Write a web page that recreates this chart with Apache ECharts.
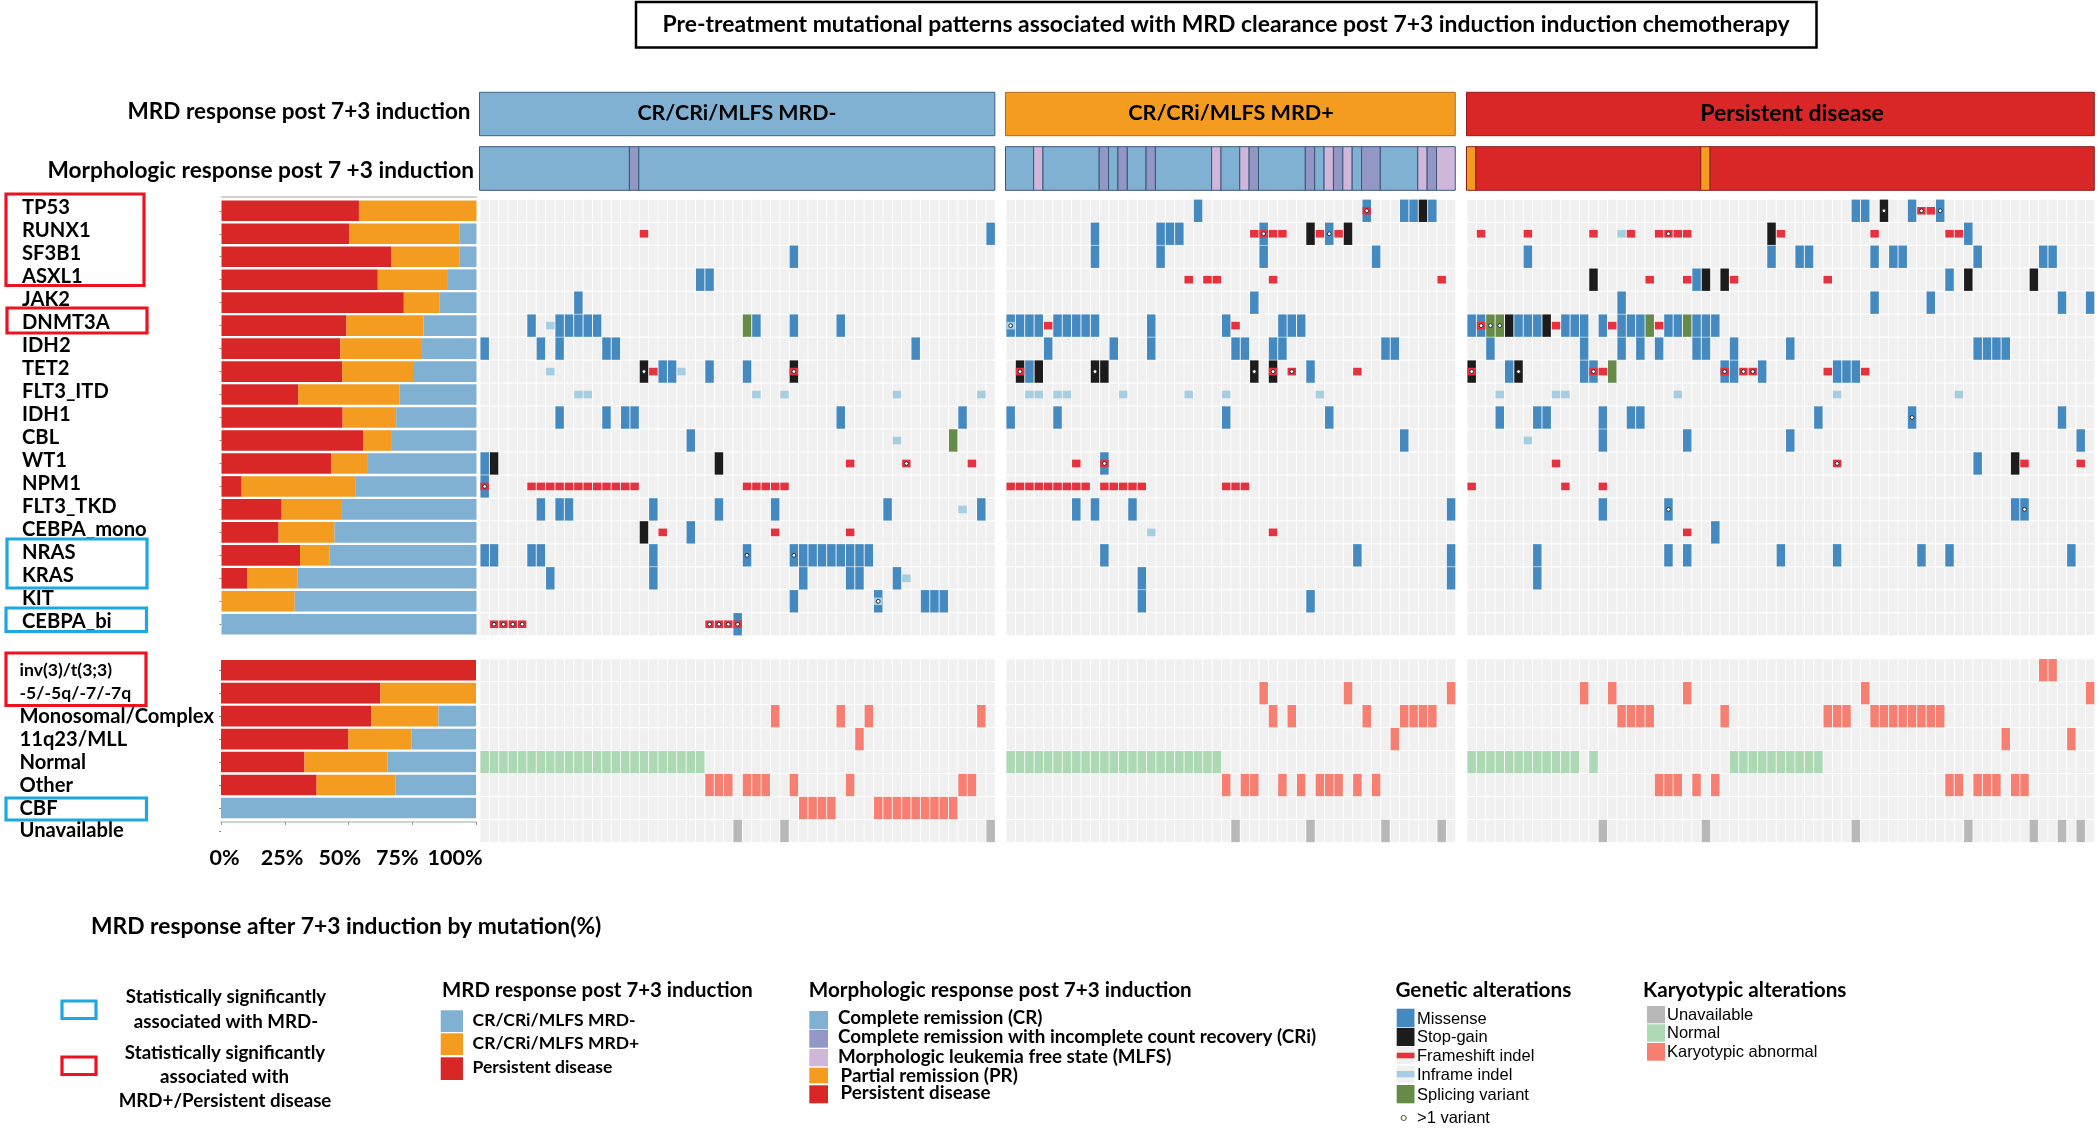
<!DOCTYPE html>
<html><head><meta charset="utf-8"><style>html,body{margin:0;padding:0;background:#fff}#c{width:2100px;height:1129px}</style>
<script src="https://cdn.jsdelivr.net/npm/echarts@6/dist/echarts.min.js"></script></head>
<body><div id="c"></div>
<script>
// ---------- categories ----------
const genes = ['TP53','RUNX1','SF3B1','ASXL1','JAK2','DNMT3A','IDH2','TET2','FLT3_ITD','IDH1','CBL','WT1','NPM1','FLT3_TKD','CEBPA_mono','NRAS','KRAS','KIT','CEBPA_bi'];
const karyotypes = ['inv(3)/t(3;3)','-5/-5q/-7/-7q','Monosomal/Complex','11q23/MLL','Normal','Other','CBF','Unavailable'];
const tickLabels = ['0%','25%','50%','75%','100%'];
const groupNames = ['CR/CRi/MLFS MRD-','CR/CRi/MLFS MRD+','Persistent disease'];
const patientCounts = [55,48,67];

// ---------- response percentages by row ----------
const genePersistent = [53.9,50.1,66.7,61.3,71.5,49,46.6,47.3,30.1,47.5,55.7,43.1,7.9,23.6,22.4,30.8,10.2,0,0];
const geneMrdPos     = [46.1,43.1,26.5,27.5,14.1,30.2,32,27.8,39.8,21,10.8,14,44.8,23.3,21.9,11.6,19.7,28.7,0];
const geneMrdNeg     = [0,6.8,6.8,11.2,14.4,20.8,21.4,24.9,30.1,31.5,33.5,42.9,47.3,53.1,55.7,57.6,70.1,71.3,100];
const karyoPersistent = [100,62.5,59,50,32.75,37.5,0,null];
const karyoMrdPos     = [0,37.5,26.25,24.75,32.5,31,0,null];
const karyoMrdNeg     = [0,0,14.75,25.25,34.75,31.5,100,null];

// ---------- morphologic response, runs of [first patient, count, state] ----------
const morphMrdNeg = [[0,16,'CR'],[16,1,'CRi'],[17,38,'CR']];
const morphMrdPos = [[0,3,'CR'],[3,1,'MLFS'],[4,6,'CR'],[10,1,'CRi'],[11,1,'CR'],[12,1,'CRi'],[13,2,'CR'],[15,1,'CRi'],[16,6,'CR'],[22,1,'MLFS'],[23,2,'CR'],[25,1,'MLFS'],[26,1,'CRi'],[27,5,'CR'],[32,1,'CRi'],[33,1,'CR'],[34,1,'MLFS'],[35,1,'CRi'],[36,1,'MLFS'],[37,1,'CR'],[38,2,'CRi'],[40,4,'CR'],[44,1,'MLFS'],[45,1,'CRi'],[46,2,'MLFS']];
const morphPersistent = [[0,1,'PR'],[1,24,'PD'],[25,1,'PR'],[26,41,'PD']];

// ---------- MRD- patients: alterations per row ----------
const negMissense = {RUNX1:[54],SF3B1:[33],ASXL1:[23,24],JAK2:[10],DNMT3A:[5,8,9,10,11,12,29,33,38],IDH2:[0,6,8,13,14,46],TET2:[19,20,24,28],IDH1:[8,13,15,16,38,51],CBL:[22],WT1:[0],NPM1:[0],FLT3_TKD:[6,8,9,18,25,31,43,53],CEBPA_mono:[22],NRAS:[0,1,5,6,18,28,33,34,35,36,37,38,39,40,41],KRAS:[7,18,34,39,40,44],KIT:[33,42,47,48,49],CEBPA_bi:[27]};
const negStop = {TET2:[17,33],WT1:[1,25],CEBPA_mono:[17]};
const negFrameshift = {RUNX1:[17],TET2:[18,33],WT1:[39,45,52],NPM1:[0,5,6,7,8,9,10,11,12,13,14,15,16,28,29,30,31,32],CEBPA_mono:[19,31,39],CEBPA_bi:[1,2,3,4,24,25,26,27]};
const negInframe = {DNMT3A:[7],TET2:[7,21],FLT3_ITD:[10,11,29,32,44,53],CBL:[44],FLT3_TKD:[51],KRAS:[45],KIT:[42]};
const negSplicing = {DNMT3A:[28],CBL:[50]};
const negMulti = {TET2:[17,33],WT1:[45],NPM1:[0],NRAS:[28,33],KIT:[42],CEBPA_bi:[1,2,3,4,24,25,26,27]};
const negKaryo = {'Monosomal/Complex':[31,38,41,53],'11q23/MLL':[40],Other:[24,25,26,28,29,30,33,39,51,52],CBF:[34,35,36,37,42,43,44,45,46,47,48,49,50]};
const negNormal = {Normal:[0,1,2,3,4,5,6,7,8,9,10,11,12,13,14,15,16,17,18,19,20,21,22,23]};
const negUnavailable = {Unavailable:[27,32,54]};

// ---------- MRD+ patients ----------
const posMissense = {TP53:[20,38,42,43,45],RUNX1:[9,16,17,18,27,34],SF3B1:[9,16,27,39],JAK2:[26],DNMT3A:[0,1,2,3,5,6,7,8,9,15,23,29,30,31],IDH2:[4,11,15,24,25,28,29,40,41],TET2:[2,32],IDH1:[0,5,23,34],CBL:[42],WT1:[10],FLT3_TKD:[7,9,13,47],NRAS:[10,37,47],KRAS:[14,47],KIT:[14,32]};
const posStop = {TP53:[44],RUNX1:[32,36],TET2:[1,3,9,10,26,28]};
const posFrameshift = {TP53:[38],RUNX1:[26,27,28,29,33,35],ASXL1:[19,21,22,28,46],DNMT3A:[4,24],TET2:[1,28,30,37],WT1:[7,10],NPM1:[0,1,2,3,4,5,6,7,8,10,11,12,13,14,23,24,25],CEBPA_mono:[28]};
const posInframe = {DNMT3A:[0],FLT3_ITD:[2,3,5,6,12,19,23,33],CEBPA_mono:[15]};
const posMulti = {TP53:[38],RUNX1:[27,34],DNMT3A:[0],TET2:[1,9,26,28,30],WT1:[10]};
const posKaryo = {'-5/-5q/-7/-7q':[27,36,47],'Monosomal/Complex':[28,30,38,42,43,44,45],'11q23/MLL':[41],Other:[23,25,26,29,31,33,34,35,37,39]};
const posNormal = {Normal:[0,1,2,3,4,5,6,7,8,9,10,11,12,13,14,15,16,17,18,19,20,21,22]};
const posUnavailable = {Unavailable:[24,32,40,46]};

// ---------- Persistent disease patients ----------
const pdMissense = {TP53:[41,42,47,50],RUNX1:[53],SF3B1:[6,32,35,36,43,45,46,54,61,62],ASXL1:[24,51],JAK2:[16,43,49,63,66],DNMT3A:[0,1,5,6,7,10,11,12,14,16,17,18,21,22,24,25,26],IDH2:[2,12,16,18,20,24,25,28,34,54,55,56,57],TET2:[4,12,13,27,28,31,39,40,41],IDH1:[3,7,8,14,17,18,37,47,63],CBL:[14,23,34,65],WT1:[54],FLT3_TKD:[14,21,58,59],CEBPA_mono:[26],NRAS:[7,21,23,33,39,48,51,64],KRAS:[7]};
const pdStop = {TP53:[44],RUNX1:[32],ASXL1:[13,25,27,53,60],DNMT3A:[4,8],TET2:[0,5],WT1:[58]};
const pdFrameshift = {TP53:[48,49],RUNX1:[1,6,13,17,20,21,22,23,33,43,51,52],ASXL1:[19,23,28,38],DNMT3A:[1,9,15,20],TET2:[0,13,14,27,29,30,38,42],WT1:[9,39,59,65],NPM1:[0,10,14],CEBPA_mono:[23]};
const pdInframe = {RUNX1:[16],FLT3_ITD:[3,9,10,22,39,52],CBL:[6]};
const pdSplicing = {DNMT3A:[2,3,19,23],TET2:[15]};
const pdMulti = {TP53:[44,48,50],RUNX1:[21],DNMT3A:[1,2,3],TET2:[0,5,13,27,29,30],IDH1:[47],WT1:[39],FLT3_TKD:[21,59]};
const pdKaryo = {'inv(3)/t(3;3)':[61,62],'-5/-5q/-7/-7q':[12,15,23,42,66],'Monosomal/Complex':[16,17,18,19,27,38,39,40,43,44,45,46,47,48,49,50],'11q23/MLL':[57,64],Other:[20,21,22,24,26,51,52,54,55,56,58,59]};
const pdNormal = {Normal:[0,1,2,3,4,5,6,7,8,9,10,11,13,28,29,30,31,32,33,34,35,36,37]};
const pdUnavailable = {Unavailable:[14,25,41,53,60,63,65]};

// ---------- legend texts ----------
const mrdLegendLabels = ['CR/CRi/MLFS MRD-','CR/CRi/MLFS MRD+','Persistent disease'];
const morphLegendLabels = ['Complete remission (CR)','Complete remission with incomplete count recovery (CRi)','Morphologic leukemia free state (MLFS)','Partial remission (PR)','Persistent disease'];
const geneticLegendLabels = ['Missense','Stop-gain','Frameshift indel','Inframe indel','Splicing variant','>1 variant'];
const karyoLegendLabels = ['Unavailable','Normal','Karyotypic abnormal'];

// ---------- styles / layout ----------
const C = {neg:'#80b1d3',pos:'#f39c1f',pd:'#d92727',cri:'#9397c6',mlfs:'#d0b7da',
  missense:'#4589c1',stop:'#1c1c1c',frameshift:'#e6323e',inframe:'#a6cee3',splicing:'#668a48',
  karyo:'#f67f72',normal:'#acd9b3',unavail:'#b8b8b8',cell:'#f0f0f0',boxBlue:'#1ea7e1',boxRed:'#ee1220'};
const FONT='Lato', PITCH=9.37, ROW=22.97, TOP=199.3;
const panelLeft=[480,1006,1467];
const rows=[...genes,'',...karyotypes];

const grids=[],xAxes=[],yAxes=[],series=[];
function addGrid(left,top,width,height,xa,ya){
  grids.push({left,top,width,height,containLabel:false});
  const i=grids.length-1;
  xAxes.push(Object.assign({gridIndex:i,show:false},xa));
  yAxes.push(Object.assign({gridIndex:i,show:false},ya));
  return i;
}
function toCells(table){
  const out=[];
  Object.keys(table).forEach(k=>table[k].forEach(c=>out.push([c,rows.indexOf(k)])));
  return out;
}
function cellSeries(gi,data,color,kind,z){
  return {type:'custom',xAxisIndex:gi,yAxisIndex:gi,z,clip:false,silent:true,animation:false,
    encode:{x:0,y:1},data,
    renderItem(params,api){
      const p=api.coord([api.value(0),api.value(1)]);
      const w=api.size([1,0])[0], h=api.size([0,1])[1];
      if(kind==='circle') return {type:'circle',shape:{cx:p[0]+w/2,cy:p[1],r:1.9},style:{fill:'#fff',stroke:'#1c2a36',lineWidth:1}};
      const rh= kind==='short'?7.6: kind==='bg'?h-1.1: h-0.6;
      const rw= w-0.9;
      return {type:'rect',shape:{x:p[0]+0.45,y:p[1]-rh/2,width:rw,height:rh},style:{fill:color}};
    }};
}
function spanSeries(gi,runs,fill,stroke){
  return {type:'custom',xAxisIndex:gi,yAxisIndex:gi,z:3,clip:false,silent:true,animation:false,
    encode:{x:[0,1]},data:runs.map(r=>[r[0],r[0]+r[1]]),
    renderItem(params,api){
      const a=api.coord([api.value(0),0]), b=api.coord([api.value(1),0]);
      const h=api.size([0,1])[1];
      const st=runs[params.dataIndex][2];
      return {type:'rect',shape:{x:a[0]-0.5,y:a[1]-h/2,width:b[0]-a[0],height:h},style:{fill:fill[st],stroke,lineWidth:1}};
    }};
}
const panels=[
 {n:patientCounts[0],mrd:'neg',color:C.neg,edge:'#3f5f80',morphEdge:'#3a5578',morph:morphMrdNeg,t:[negMissense,negStop,negSplicing,negFrameshift,negInframe,negMulti,negKaryo,negNormal,negUnavailable]},
 {n:patientCounts[1],mrd:'pos',color:C.pos,edge:'#a86f17',morphEdge:'#3a5578',morph:morphMrdPos,t:[posMissense,posStop,{},posFrameshift,posInframe,posMulti,posKaryo,posNormal,posUnavailable]},
 {n:patientCounts[2],mrd:'pd',color:C.pd,edge:'#8f1a1a',morphEdge:'#8f1a1a',morph:morphPersistent,t:[pdMissense,pdStop,pdSplicing,pdFrameshift,pdInframe,pdMulti,pdKaryo,pdNormal,pdUnavailable]}
];
const morphFill={CR:C.neg,CRi:C.cri,MLFS:C.mlfs,PR:C.pos,PD:C.pd};
panels.forEach((p,i)=>{
  const w=p.n*PITCH, left=panelLeft[i];
  const xa={type:'value',min:0,max:p.n};
  const g=addGrid(left,TOP,w,ROW*rows.length,xa,{type:'category',inverse:true,data:rows});
  const bg=[];
  rows.forEach((r,ri)=>{ if(r!=='') for(let c=0;c<p.n;c++) bg.push([c,ri]); });
  series.push(cellSeries(g,bg,C.cell,'bg',1));
  series.push(cellSeries(g,toCells(p.t[0]),C.missense,'tall',2));
  series.push(cellSeries(g,toCells(p.t[1]),C.stop,'tall',2));
  series.push(cellSeries(g,toCells(p.t[2]),C.splicing,'tall',2));
  series.push(cellSeries(g,toCells(p.t[4]),C.inframe,'short',3));
  series.push(cellSeries(g,toCells(p.t[3]),C.frameshift,'short',4));
  series.push(cellSeries(g,toCells(p.t[5]),'#fff','circle',5));
  series.push(cellSeries(g,toCells(p.t[6]),C.karyo,'tall',2));
  series.push(cellSeries(g,toCells(p.t[7]),C.normal,'tall',2));
  series.push(cellSeries(g,toCells(p.t[8]),C.unavail,'tall',2));
  const g1=addGrid(left,92.3,w,43.4,xa,{type:'category',data:['MRD']});
  series.push(spanSeries(g1,[[0,p.n,p.mrd]],{neg:C.neg,pos:C.pos,pd:C.pd},p.edge));
  const g2=addGrid(left,146.7,w,43.6,xa,{type:'category',data:['Morph']});
  series.push(spanSeries(g2,p.morph,morphFill,p.morphEdge));
});
// left stacked bars
const axisLabelBase={show:true,align:'left',fontFamily:FONT,fontWeight:'bold',fontSize:20.2,color:'#000',interval:0};
const yBase={show:true,type:'category',inverse:true,axisLine:{show:false},axisTick:{show:true,length:2,alignWithLabel:true,lineStyle:{color:'#888'}}};
const gG=addGrid(221.5,TOP,255,ROW*genes.length,
  {type:'value',min:0,max:100,show:true,position:'top',offset:3,splitLine:{show:false},axisTick:{show:false},axisLabel:{show:false},axisLine:{show:true,lineStyle:{color:'#c4c4c4',width:1.5}}},
  Object.assign({},yBase,{data:genes,axisLabel:{show:false}}));
// gene names sit a little above their bars, on their own label axis
addGrid(221.5,TOP-3,255,ROW*genes.length,{type:'value',min:0,max:100},
  {show:true,type:'category',inverse:true,data:genes,axisLine:{show:false},axisTick:{show:false},
   axisLabel:Object.assign({},axisLabelBase,{margin:199.5})});
const gK=addGrid(221,658.7,255,ROW*karyotypes.length,
  {type:'value',min:0,max:100,show:true,interval:25,position:'bottom',offset:-20.5,splitLine:{show:false},axisTick:{show:true,length:3,lineStyle:{color:'#999'}},axisLabel:{show:false},axisLine:{show:true,lineStyle:{color:'#c4c4c4',width:1.5}}},
  Object.assign({},yBase,{data:karyotypes,axisLabel:Object.assign({},axisLabelBase,{margin:201.5,
    formatter:v=>(v[0]==='-'||v.startsWith('inv'))?'{s|'+v+'}':v,
    rich:{s:{fontFamily:FONT,fontWeight:'bold',fontSize:17.6,color:'#000'}}})}));
function bar(gi,name,data,color){
  return {type:'bar',name,xAxisIndex:gi,yAxisIndex:gi,stack:'s'+gi,data,barWidth:20.6,z:2,silent:true,animation:false,
    itemStyle:{color}};
}
series.push(bar(gG,'Persistent disease',genePersistent,C.pd),bar(gG,'MRD+',geneMrdPos,C.pos),bar(gG,'MRD-',geneMrdNeg,C.neg));
series.push(bar(gK,'Persistent disease',karyoPersistent,C.pd),bar(gK,'MRD+',karyoMrdPos,C.pos),bar(gK,'MRD-',karyoMrdNeg,C.neg));
// tick label axis
addGrid(224.5,842.5,230.5,1,
  {type:'value',min:0,max:100,interval:25,show:true,axisLine:{show:false},axisTick:{show:false},splitLine:{show:false},
   axisLabel:{show:true,hideOverlap:false,showMinLabel:true,showMaxLabel:true,margin:4,fontFamily:FONT,fontWeight:'bold',fontSize:21.5,color:'#000',formatter:v=>tickLabels[v/25]}},
  {type:'category',data:['']});

// decoration: text, boxes, legend
const g=[];
function T(x,y,text,o={}){
  g.push({type:'text',silent:true,z:20,x,y,style:{text,fill:'#000',font:(o.w||'bold')+' '+(o.s||18)+'px '+(o.f||FONT),textAlign:o.a||'left',textVerticalAlign:'middle'}});
}
function R(x0,y0,x1,y1,fill,stroke,lw){
  g.push({type:'rect',silent:true,z:19,shape:{x:x0,y:y0,width:x1-x0,height:y1-y0},style:{fill:fill||'none',stroke:stroke||'none',lineWidth:lw||0}});
}
R(636,2,1816.5,47.5,'#fff','#000',2.5);
T(1226,25,'Pre-treatment mutational patterns associated with MRD clearance post 7+3 induction induction chemotherapy',{a:'center',s:22.9});
T(470.5,111.5,'MRD response post 7+3 induction',{a:'right',s:22.5});
T(474,170.5,'Morphologic response post 7 +3 induction',{a:'right',s:22.7});
T(737,113.5,groupNames[0],{a:'center',s:21.4});
T(1231,113.5,groupNames[1],{a:'center',s:21.6});
T(1792,114,groupNames[2],{a:'center',s:23});
[[6,194,144,285.5,C.boxRed],[7,308,147,333,C.boxRed],[7,539,147,588,C.boxBlue],[6,608,146.5,631.5,C.boxBlue],[6,653,146,705.5,C.boxRed],[6,798,146.5,820,C.boxBlue]]
  .forEach(b=>R(b[0],b[1],b[2],b[3],null,b[4],3.2));
T(91,927,'MRD response after 7+3 induction by mutation(%)',{s:22.8});
R(62,1001,96,1018.5,null,C.boxBlue,3.2);
R(62,1057,96,1074.5,null,C.boxRed,3.2);
T(226,996.7,'Statistically significantly',{a:'center',s:18.7});
T(226,1021.7,'associated with MRD-',{a:'center',s:18.7});
T(225,1052.7,'Statistically significantly',{a:'center',s:18.7});
T(224.5,1076.7,'associated with',{a:'center',s:18.7});
T(225,1101,'MRD+/Persistent disease',{a:'center',s:18.7});
T(442,990.5,'MRD response post 7+3 induction',{s:20.4});
[[1010.3,1032,C.neg,1020],[1033.3,1055,C.pos,1043.3],[1057.3,1080,C.pd,1067.7]].forEach((r,i)=>{
  R(440.7,r[0],463,r[1],r[2]); T(472.6,r[3],mrdLegendLabels[i],{s:17.5});
});
T(808.7,990,'Morphologic response post 7+3 induction',{s:20.65});
[[1011,1029.3,C.neg,1018.3,838],[1030,1047.7,C.cri,1037.3,838],[1049,1066.3,C.mlfs,1056.7,838],[1067.7,1083.3,C.pos,1075.7,840.6],[1085.3,1103.3,C.pd,1093.3,840.6]].forEach((r,i)=>{
  R(809.3,r[0],828,r[1],r[2]); T(r[4],r[3],morphLegendLabels[i],{s:18.8});
});
T(1395.4,990.5,'Genetic alterations',{s:20.8});
const LF={w:'normal',f:'"Liberation Sans"',s:16.5};
R(1396.7,1008.7,1414.5,1027.3,C.missense);
R(1396.7,1028,1414.5,1046,C.stop);
R(1396.7,1047,1414.5,1064,C.cell); R(1396.7,1052.7,1414.5,1058.3,C.frameshift);
R(1396.7,1066,1414.5,1082.7,C.cell); R(1396.7,1071,1414.5,1077.3,C.inframe);
R(1396.7,1085,1414.5,1103.3,C.splicing);
g.push({type:'circle',silent:true,z:19,shape:{cx:1403.7,cy:1118,r:2.6},style:{fill:'#fbf4d8',stroke:'#555',lineWidth:1}});
[1019,1037.7,1056.3,1075.3,1095,1118.7].forEach((y,i)=>T(1417,y,geneticLegendLabels[i],LF));
T(1643,990.5,'Karyotypic alterations',{s:20.7});
[[1006,1023.3,C.unavail,1015.3],[1024.3,1041.7,C.normal,1033.7],[1043,1060.7,C.karyo,1052.7]].forEach((r,i)=>{
  R(1647,r[0],1665,r[1],r[2]); T(1667,r[3],karyoLegendLabels[i],LF);
});

const chart=echarts.init(document.getElementById('c'),null,{renderer:'canvas'});
chart.setOption({animation:false,backgroundColor:'#fff',grid:grids,xAxis:xAxes,yAxis:yAxes,series,graphic:{elements:g}});
</script></body></html>
